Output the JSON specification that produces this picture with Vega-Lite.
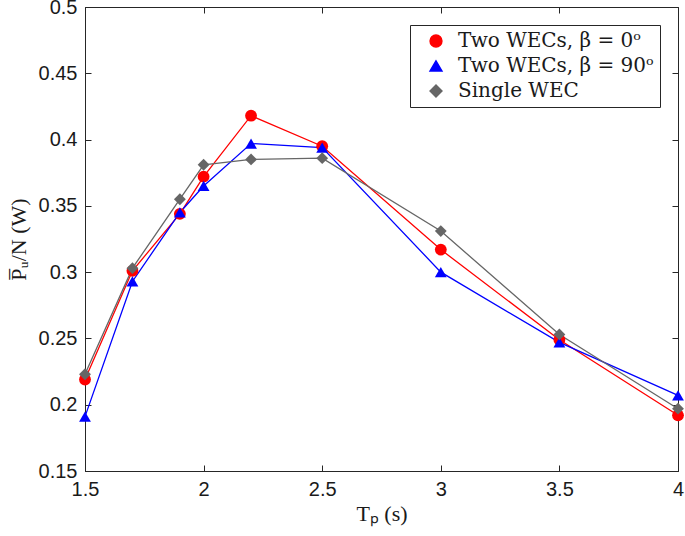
{
  "$schema": "https://vega.github.io/schema/vega-lite/v6.json",
  "width": 593,
  "height": 464,
  "autosize": {"type": "none"},
  "padding": {"left": 85, "top": 7, "right": 7, "bottom": 65},
  "background": "white",
  "config": {
    "view": {"stroke": "#262626", "strokeWidth": 1},
    "axis": {
      "domainColor": "#262626",
      "tickColor": "#262626",
      "gridColor": "#dcdcdc",
      "labelFont": "Liberation Sans",
      "labelFontSize": 20,
      "labelColor": "#1a1a1a",
      "titleFont": "Liberation Serif",
      "titleFontSize": 22,
      "titleFontWeight": "normal",
      "titleColor": "#1a1a1a",
      "tickSize": -6,
      "labelPadding": 14,
      "labelFlush": false
    },
    "legend": {
      "orient": "top-right",
      "offset": 18,
      "strokeColor": "#262626",
      "fillColor": "white",
      "padding": 6,
      "labelFont": "DejaVu Serif",
      "labelFontSize": 20,
      "labelColor": "#1a1a1a",
      "symbolSize": 140,
      "symbolOpacity": 1,
      "symbolOffset": 10,
      "labelOffset": 12,
      "rowPadding": 5,
      "labelLimit": 400,
      "cornerRadius": 0
    }
  },
  "data": {
    "values": [
      {"Tp": 1.5, "P": 0.219, "s": "Two WECs, β = 0ᵒ"},
      {"Tp": 1.7, "P": 0.301, "s": "Two WECs, β = 0ᵒ"},
      {"Tp": 1.9, "P": 0.344, "s": "Two WECs, β = 0ᵒ"},
      {"Tp": 2.0, "P": 0.372, "s": "Two WECs, β = 0ᵒ"},
      {"Tp": 2.2, "P": 0.418, "s": "Two WECs, β = 0ᵒ"},
      {"Tp": 2.5, "P": 0.395, "s": "Two WECs, β = 0ᵒ"},
      {"Tp": 3.0, "P": 0.317, "s": "Two WECs, β = 0ᵒ"},
      {"Tp": 3.5, "P": 0.249, "s": "Two WECs, β = 0ᵒ"},
      {"Tp": 4.0, "P": 0.192, "s": "Two WECs, β = 0ᵒ"},
      {"Tp": 1.5, "P": 0.191, "s": "Two WECs, β = 90ᵒ"},
      {"Tp": 1.7, "P": 0.293, "s": "Two WECs, β = 90ᵒ"},
      {"Tp": 1.9, "P": 0.345, "s": "Two WECs, β = 90ᵒ"},
      {"Tp": 2.0, "P": 0.365, "s": "Two WECs, β = 90ᵒ"},
      {"Tp": 2.2, "P": 0.397, "s": "Two WECs, β = 90ᵒ"},
      {"Tp": 2.5, "P": 0.394, "s": "Two WECs, β = 90ᵒ"},
      {"Tp": 3.0, "P": 0.300, "s": "Two WECs, β = 90ᵒ"},
      {"Tp": 3.5, "P": 0.247, "s": "Two WECs, β = 90ᵒ"},
      {"Tp": 4.0, "P": 0.207, "s": "Two WECs, β = 90ᵒ"},
      {"Tp": 1.5, "P": 0.223, "s": "Single WEC"},
      {"Tp": 1.7, "P": 0.303, "s": "Single WEC"},
      {"Tp": 1.9, "P": 0.355, "s": "Single WEC"},
      {"Tp": 2.0, "P": 0.381, "s": "Single WEC"},
      {"Tp": 2.2, "P": 0.385, "s": "Single WEC"},
      {"Tp": 2.5, "P": 0.386, "s": "Single WEC"},
      {"Tp": 3.0, "P": 0.331, "s": "Single WEC"},
      {"Tp": 3.5, "P": 0.253, "s": "Single WEC"},
      {"Tp": 4.0, "P": 0.197, "s": "Single WEC"}
    ]
  },
  "layer": [
    {
      "mark": {"type": "point", "opacity": 0},
      "encoding": {
        "x": {
          "field": "Tp", "type": "quantitative",
          "scale": {"domain": [1.5, 4], "nice": false},
          "axis": {"orient": "top", "values": [1.5, 2, 2.5, 3, 3.5, 4], "labels": false, "grid": false, "title": null, "domain": false}
        },
        "y": {
          "field": "P", "type": "quantitative",
          "scale": {"domain": [0.15, 0.5], "nice": false, "zero": false},
          "axis": {"orient": "right", "values": [0.15, 0.2, 0.25, 0.3, 0.35, 0.4, 0.45, 0.5], "labels": false, "grid": false, "title": null, "domain": false}
        }
      }
    },
    {
      "encoding": {
        "x": {
          "field": "Tp", "type": "quantitative",
          "scale": {"domain": [1.5, 4], "nice": false},
          "axis": {"values": [1.5, 2, 2.5, 3, 3.5, 4], "format": "~g", "title": "Tₚ (s)", "titlePadding": 4}
        },
        "y": {
          "field": "P", "type": "quantitative",
          "scale": {"domain": [0.15, 0.5], "nice": false, "zero": false},
          "axis": {"values": [0.15, 0.2, 0.25, 0.3, 0.35, 0.4, 0.45, 0.5], "format": "~g", "title": "P̅ᵤ/N (W)", "titlePadding": 8}
        },
        "color": {
          "field": "s", "type": "nominal",
          "scale": {
            "domain": ["Two WECs, β = 0ᵒ", "Two WECs, β = 90ᵒ", "Single WEC"],
            "range": ["#ff0000", "#0000ff", "#666666"]
          },
          "legend": {"title": null}
        }
      },
      "layer": [
        {
          "mark": {"type": "line", "strokeWidth": 1.3}
        },
        {
          "mark": {"type": "point", "filled": true, "opacity": 1, "size": 140},
          "encoding": {
            "shape": {
              "field": "s", "type": "nominal",
              "scale": {
                "domain": ["Two WECs, β = 0ᵒ", "Two WECs, β = 90ᵒ", "Single WEC"],
                "range": ["circle", "triangle-up", "diamond"]
              },
              "legend": {"title": null}
            }
          }
        }
      ]
    }
  ],
  "resolve": {"axis": {"x": "independent", "y": "independent"}}
}
